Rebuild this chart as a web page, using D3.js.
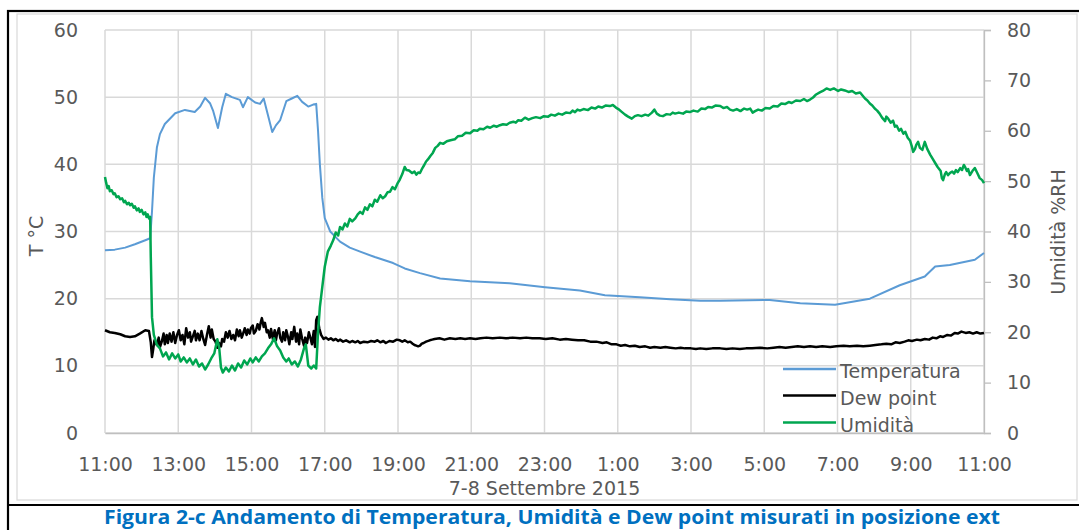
<!DOCTYPE html>
<html>
<head>
<meta charset="utf-8">
<script src="https://cdn.jsdelivr.net/npm/d3@7/dist/d3.min.js"></script>
<style>
  html, body { margin: 0; padding: 0; background: #fff; }
  svg { display: block; }
  text { font-family: "DejaVu Sans", sans-serif; }
</style>
</head>
<body>
<svg id="chart" width="1079" height="530"></svg>
<script>
// ---------- DATA (minutes since 11:00 on 7 Sept) ----------
const xTickMinutes = [0, 120, 240, 360, 480, 600, 720, 840, 960, 1080, 1200, 1320, 1440];
const xTickLabels = ["11:00","13:00","15:00","17:00","19:00","21:00","23:00","1:00","3:00","5:00","7:00","9:00","11:00"];
const leftTicks = [0, 10, 20, 30, 40, 50, 60];
const rightTicks = [0, 10, 20, 30, 40, 50, 60, 70, 80];
const seriesNames = ["Temperatura", "Dew point", "Umidità"];

const tempMin = [0,16,33,49,66,74,77,80,85,90,98,115,131,147,156,164,172,177,185,192,198,208,221,226,234,246,254,260,267,274,280,287,297,306,315,323,333,341,346,349,352,356,360,369,385,401,418,442,472,491,516,549,598,663,721,778,819,876,926,975,1008,1089,1139,1196,1253,1302,1343,1360,1384,1425,1440];
const tempVal = [27.2,27.3,27.6,28.1,28.7,29.0,33,38,42.5,44.5,46,47.6,48.1,47.8,48.6,49.9,49.1,48.0,45.4,48.5,50.5,50.0,49.6,48.5,50.0,49.2,49.0,49.8,47.3,44.8,45.8,46.6,49.4,49.8,50.2,49.3,48.6,48.9,49.0,45,40,35,32,30.0,28.5,27.6,27.0,26.2,25.3,24.5,23.8,23.0,22.6,22.3,21.7,21.2,20.5,20.2,19.9,19.7,19.7,19.8,19.3,19.1,20.0,22.0,23.3,24.8,25.0,25.8,26.8];

const dewMin = [0,8,16,25,33,41,49,57,66,72,75,77,79,81,85,88,90,93,96,98,101,103,106,109,112,115,118,121,124,127,130,133,136,139,141,144,147,149,152,155,158,161,164,167,170,173,175,178,181,184,187,190,192,195,198,201,204,207,210,213,216,219,221,224,227,229,232,234,237,239,242,244,247,250,253,255,257,260,262,265,267,270,272,275,278,280,282,285,287,290,292,295,297,300,302,305,307,310,313,315,318,320,323,326,328,331,334,337,339,342,344,346,348,351,354,358,362,366,370,374,378,382,385,390,395,401,405,410,414,418,424,430,436,442,446,451,456,460,466,472,478,483,487,491,496,500,504,507,510,513,516,519,522,526,532,536,540,548,556,565,574,582,590,598,607,615,625,635,647,657,668,680,690,700,712,722,733,745,755,765,775,785,795,805,815,822,830,838,845,852,860,868,876,885,893,900,910,918,926,935,943,950,960,968,975,985,995,1008,1018,1028,1040,1050,1060,1073,1085,1095,1105,1115,1125,1135,1145,1155,1165,1175,1188,1198,1210,1220,1232,1242,1253,1262,1272,1280,1288,1295,1302,1310,1316,1322,1330,1336,1343,1350,1356,1362,1368,1373,1380,1386,1392,1397,1403,1410,1416,1422,1428,1434,1440];
const dewVal = [15.3,15.0,14.9,14.7,14.4,14.3,14.4,14.8,15.3,15.2,13.5,11.3,12.5,13.8,13.1,14.2,12.8,13.6,14.8,13.2,14.6,13.4,14.8,13.6,15.0,13.4,14.6,15.3,13.8,14.6,13.2,15.6,14.2,15.0,13.6,14.4,15.2,13.8,14.8,13.8,15.2,14.0,13.1,14.6,15.9,14.2,15.4,14.0,13.6,12.7,13.4,12.9,14.0,13.6,15.0,14.2,15.2,14.0,14.6,13.8,15.4,14.4,15.3,14.2,15.0,15.6,14.6,15.4,14.8,15.6,16.0,14.8,15.2,16.2,15.4,16.4,17.1,15.8,16.4,15.0,15.3,14.2,15.5,14.0,15.3,13.8,14.8,15.6,14.2,13.6,15.0,13.8,15.3,14.2,13.2,15.0,14.0,15.8,13.6,14.8,13.2,15.4,14.0,13.0,14.2,13.4,15.0,14.0,13.2,15.2,12.8,16.8,17.3,15.6,14.6,14.0,14.2,13.9,14.1,13.8,14.0,13.7,13.9,13.6,13.8,13.5,13.7,13.5,13.7,13.4,13.6,13.5,13.7,13.6,13.8,13.5,13.7,13.4,13.7,13.6,13.9,13.8,13.6,13.8,13.5,13.6,13.3,13.1,13.0,12.9,13.0,13.3,13.4,13.6,13.8,13.9,14.0,14.1,13.9,14.1,14.0,14.1,14.0,14.1,14.0,14.1,14.2,14.1,14.2,14.1,14.2,14.1,14.2,14.1,14.1,14.0,14.1,13.9,14.0,13.9,13.8,13.8,13.6,13.6,13.4,13.5,13.2,13.2,13.0,13.1,12.9,13.0,12.8,12.9,12.7,12.8,12.7,12.8,12.7,12.6,12.7,12.6,12.6,12.5,12.6,12.5,12.6,12.6,12.5,12.6,12.5,12.6,12.6,12.7,12.6,12.7,12.8,12.7,12.8,12.9,12.8,12.9,12.8,12.9,12.8,12.9,13.0,12.9,13.0,12.9,13.0,13.1,13.2,13.3,13.2,13.5,13.4,13.6,13.8,13.7,13.9,13.8,14.0,13.9,14.2,14.1,14.4,14.3,14.6,14.5,14.9,14.8,15.1,14.9,15.0,14.8,15.0,14.8,14.9];

const rhMin = [0,2,4,6,8,11,14,16,19,22,25,28,31,33,36,39,41,44,47,49,52,55,57,60,63,66,68,70,72,74,75,77,80,85,90,95,100,105,110,115,120,124,129,134,139,144,149,154,159,164,169,174,179,184,187,190,193,198,203,208,213,218,223,228,233,238,242,247,252,257,262,267,272,277,282,287,292,297,301,306,311,316,321,326,329,333,338,342,346,349,352,356,360,365,370,374,378,382,385,389,393,397,401,405,410,414,418,422,426,430,434,438,442,446,451,455,459,463,467,471,475,479,483,487,491,494,498,503,507,510,513,516,520,523,526,529,533,537,541,545,549,554,560,566,573,578,585,591,598,604,610,614,620,626,631,637,642,647,652,658,663,669,673,677,682,688,694,700,706,713,719,726,731,737,743,749,755,762,766,770,774,778,784,791,797,803,808,814,820,827,832,837,841,846,852,857,863,868,873,879,885,890,896,900,904,909,914,920,926,930,934,940,947,952,958,964,971,977,983,988,994,1000,1008,1013,1019,1024,1029,1035,1041,1047,1052,1057,1061,1065,1070,1076,1082,1089,1095,1102,1108,1114,1120,1125,1132,1139,1145,1150,1155,1160,1165,1171,1176,1182,1188,1194,1201,1206,1212,1218,1224,1230,1237,1241,1245,1249,1253,1257,1261,1265,1269,1273,1278,1280,1283,1287,1291,1294,1297,1301,1304,1308,1311,1315,1319,1322,1324,1327,1329,1332,1335,1339,1341,1343,1347,1352,1356,1360,1364,1369,1371,1373,1376,1378,1381,1384,1388,1391,1394,1397,1401,1404,1407,1409,1412,1414,1417,1421,1425,1429,1433,1437,1440];
const rhVal = [50.8,49.6,48.6,49.0,48.0,48.2,47.4,47.6,46.8,47.0,46.4,46.6,45.8,46.1,45.4,45.7,45.2,45.5,44.7,45.0,44.2,44.6,43.9,44.3,43.4,43.8,42.9,43.4,42.6,42.9,35,23,19.5,17.5,16.8,15.2,16.0,14.6,15.8,14.8,15.6,14.2,15.0,14.0,14.8,13.6,14.6,13.2,13.8,12.6,13.6,14.8,15.8,18.6,17.0,13.0,12.0,13.0,12.2,13.4,12.4,13.8,13.0,14.4,13.6,14.8,14.0,15.0,14.2,15.2,15.8,16.8,17.6,18.8,17.2,16.4,15.0,14.2,14.8,13.6,14.2,13.2,14.6,16.8,17.6,13.4,12.8,13.4,12.8,20,25,29,33,36,37.2,38.3,39.8,39.2,40.9,40.4,41.6,41.0,42.5,42.0,42.6,43.4,43.9,43.5,44.8,44.3,45.4,45.0,46.3,45.9,47.2,46.6,47.0,47.8,47.9,48.8,48.4,49.5,50.3,51.4,52.8,52.2,52.1,51.6,51.9,51.3,51.7,51.6,52.6,53.2,53.9,54.3,55.0,55.6,56.6,57.0,57.6,57.4,57.9,58.1,58.3,58.9,59.0,59.6,59.5,60.1,60.0,60.4,60.3,60.8,60.6,61.0,60.8,61.1,61.3,61.2,61.6,61.8,61.6,62.1,62.0,62.6,62.2,62.5,62.7,62.5,62.9,62.8,63.2,63.0,63.4,63.2,63.6,63.5,64.0,63.7,64.2,64.0,64.3,64.1,64.6,64.4,64.8,64.6,65.0,64.9,65.1,64.6,64.3,63.8,63.2,62.8,62.4,62.9,63.1,62.9,63.2,63.0,63.6,64.2,63.4,63.0,62.9,63.3,63.2,63.6,63.4,63.6,63.4,63.8,63.7,64.0,63.8,64.4,64.3,64.7,64.6,65.0,64.9,64.5,64.7,64.2,64.0,64.3,63.9,64.4,64.2,64.4,63.6,63.9,64.2,64.0,64.5,64.4,64.9,64.8,65.4,65.3,65.7,65.5,66.0,65.9,66.3,65.9,66.2,66.6,67.2,67.6,67.9,68.4,68.1,68.4,67.9,68.2,68.0,67.7,67.9,67.4,67.6,67.0,66.4,66.0,65.4,65.0,64.4,64.0,63.4,62.6,61.9,62.8,62.4,61.6,62.0,60.8,61.0,60.0,60.4,59.4,59.8,58.6,58.0,56.8,55.8,56.4,57.2,57.8,56.6,56.2,57.0,57.8,56.4,55.2,54.4,53.6,52.8,52.0,50.6,50.2,51.4,51.8,51.2,51.6,51.9,51.5,52.2,51.8,52.6,52.2,53.2,52.8,52.0,52.4,51.2,52.0,52.6,51.6,50.6,50.2,49.6];

// ---------- LAYOUT ----------
const svg = d3.select("#chart");
const P = { left: 105, right: 984, top: 30, bottom: 433 };
const textColor = "#595959";
const gridColor = "#d9d9d9";
const colors = { temp: "#5B9BD5", dew: "#000000", rh: "#00A650" };

const x = d3.scaleLinear().domain([0, 1440]).range([P.left, P.right]);
const yT = d3.scaleLinear().domain([0, 60]).range([P.bottom, P.top]);
const yH = d3.scaleLinear().domain([0, 80]).range([P.bottom, P.top]);

// outer frames
svg.append("rect").attr("x", 17).attr("y", 14).attr("width", 1060).attr("height", 486)
  .attr("fill", "#fff").attr("stroke", "#d9d9d9").attr("stroke-width", 1.2);
svg.append("rect").attr("x", 8).attr("y", 11).attr("width", 1080).attr("height", 530)
  .attr("fill", "none").attr("stroke", "#000").attr("stroke-width", 2.2);
svg.append("line").attr("x1", 8).attr("x2", 1079).attr("y1", 505).attr("y2", 505)
  .attr("stroke", "#000").attr("stroke-width", 2.2);

// gridlines
const grid = svg.append("g");
grid.selectAll("line.h").data(leftTicks).join("line")
  .attr("x1", P.left).attr("x2", P.right)
  .attr("y1", d => yT(d)).attr("y2", d => yT(d))
  .attr("stroke", gridColor).attr("stroke-width", 1.5);
grid.selectAll("line.v").data(xTickMinutes).join("line")
  .attr("x1", d => x(d)).attr("x2", d => x(d))
  .attr("y1", P.top).attr("y2", P.bottom)
  .attr("stroke", gridColor).attr("stroke-width", 1.5);

// axes
const axL = svg.append("g").attr("transform", `translate(${P.left},0)`)
  .call(d3.axisLeft(yT).tickValues(leftTicks).tickSize(0).tickPadding(27));
axL.select(".domain").remove();

const axR = svg.append("g").attr("transform", `translate(${P.right},0)`)
  .call(d3.axisRight(yH).tickValues(rightTicks).tickSize(7).tickPadding(16));
axR.select(".domain").attr("stroke", "#bfbfbf").attr("stroke-width", 1.3);
axR.selectAll(".tick line").attr("stroke", "#bfbfbf").attr("stroke-width", 1.3);

const axB = svg.append("g").attr("transform", `translate(0,${P.bottom})`)
  .call(d3.axisBottom(x).tickValues(xTickMinutes).tickSize(0).tickPadding(25)
    .tickFormat((d, i) => xTickLabels[i]));
axB.select(".domain").attr("stroke", "#bfbfbf").attr("stroke-width", 1.3);

svg.selectAll(".tick text").attr("fill", textColor)
  .style("font-family", "'DejaVu Sans', sans-serif").style("font-size", "19px");

// axis titles
svg.append("text").attr("transform", "translate(43,236) rotate(-90)")
  .attr("text-anchor", "middle").attr("fill", textColor).style("font-size", "19px")
  .text("T °C");
svg.append("text").attr("transform", "translate(1065,232) rotate(-90)")
  .attr("text-anchor", "middle").attr("fill", textColor).style("font-size", "19px")
  .text("Umidità %RH");
svg.append("text").attr("x", (P.left + P.right) / 2).attr("y", 495)
  .attr("text-anchor", "middle").attr("fill", textColor).style("font-size", "19px")
  .text("7-8 Settembre 2015");

// series
const mk = (mins, vals, ys) => mins.map((m, i) => [x(m), ys(vals[i])]);
const line = d3.line().curve(d3.curveLinear);
svg.append("path").attr("d", line(mk(tempMin, tempVal, yT)))
  .attr("fill", "none").attr("stroke", colors.temp).attr("stroke-width", 2).attr("stroke-linejoin", "round");
svg.append("path").attr("d", line(mk(dewMin, dewVal, yT)))
  .attr("fill", "none").attr("stroke", colors.dew).attr("stroke-width", 2.5).attr("stroke-linejoin", "round");
svg.append("path").attr("d", line(mk(rhMin, rhVal, yH)))
  .attr("fill", "none").attr("stroke", colors.rh).attr("stroke-width", 2.5).attr("stroke-linejoin", "round");

// legend
const legY = [369, 395.5, 422.5];
const legC = [colors.temp, colors.dew, colors.rh];
const leg = svg.append("g");
seriesNames.forEach((n, i) => {
  leg.append("line").attr("x1", 783).attr("x2", 836).attr("y1", legY[i]).attr("y2", legY[i])
    .attr("stroke", legC[i]).attr("stroke-width", 2.5);
  leg.append("text").attr("x", 840).attr("y", legY[i] + 9)
    .attr("fill", textColor).style("font-size", "19px").text(n);
});

// caption
svg.append("text").attr("x", 104).attr("y", 523.5)
  .attr("textLength", 896).attr("lengthAdjust", "spacingAndGlyphs")
  .attr("fill", "#0070C0").style("font-family", "'Open Sans', sans-serif")
  .style("font-weight", "bold").style("font-size", "19px")
  .text("Figura 2-c Andamento di Temperatura, Umidità e Dew point misurati in posizione ext");
</script>
</body>
</html>
